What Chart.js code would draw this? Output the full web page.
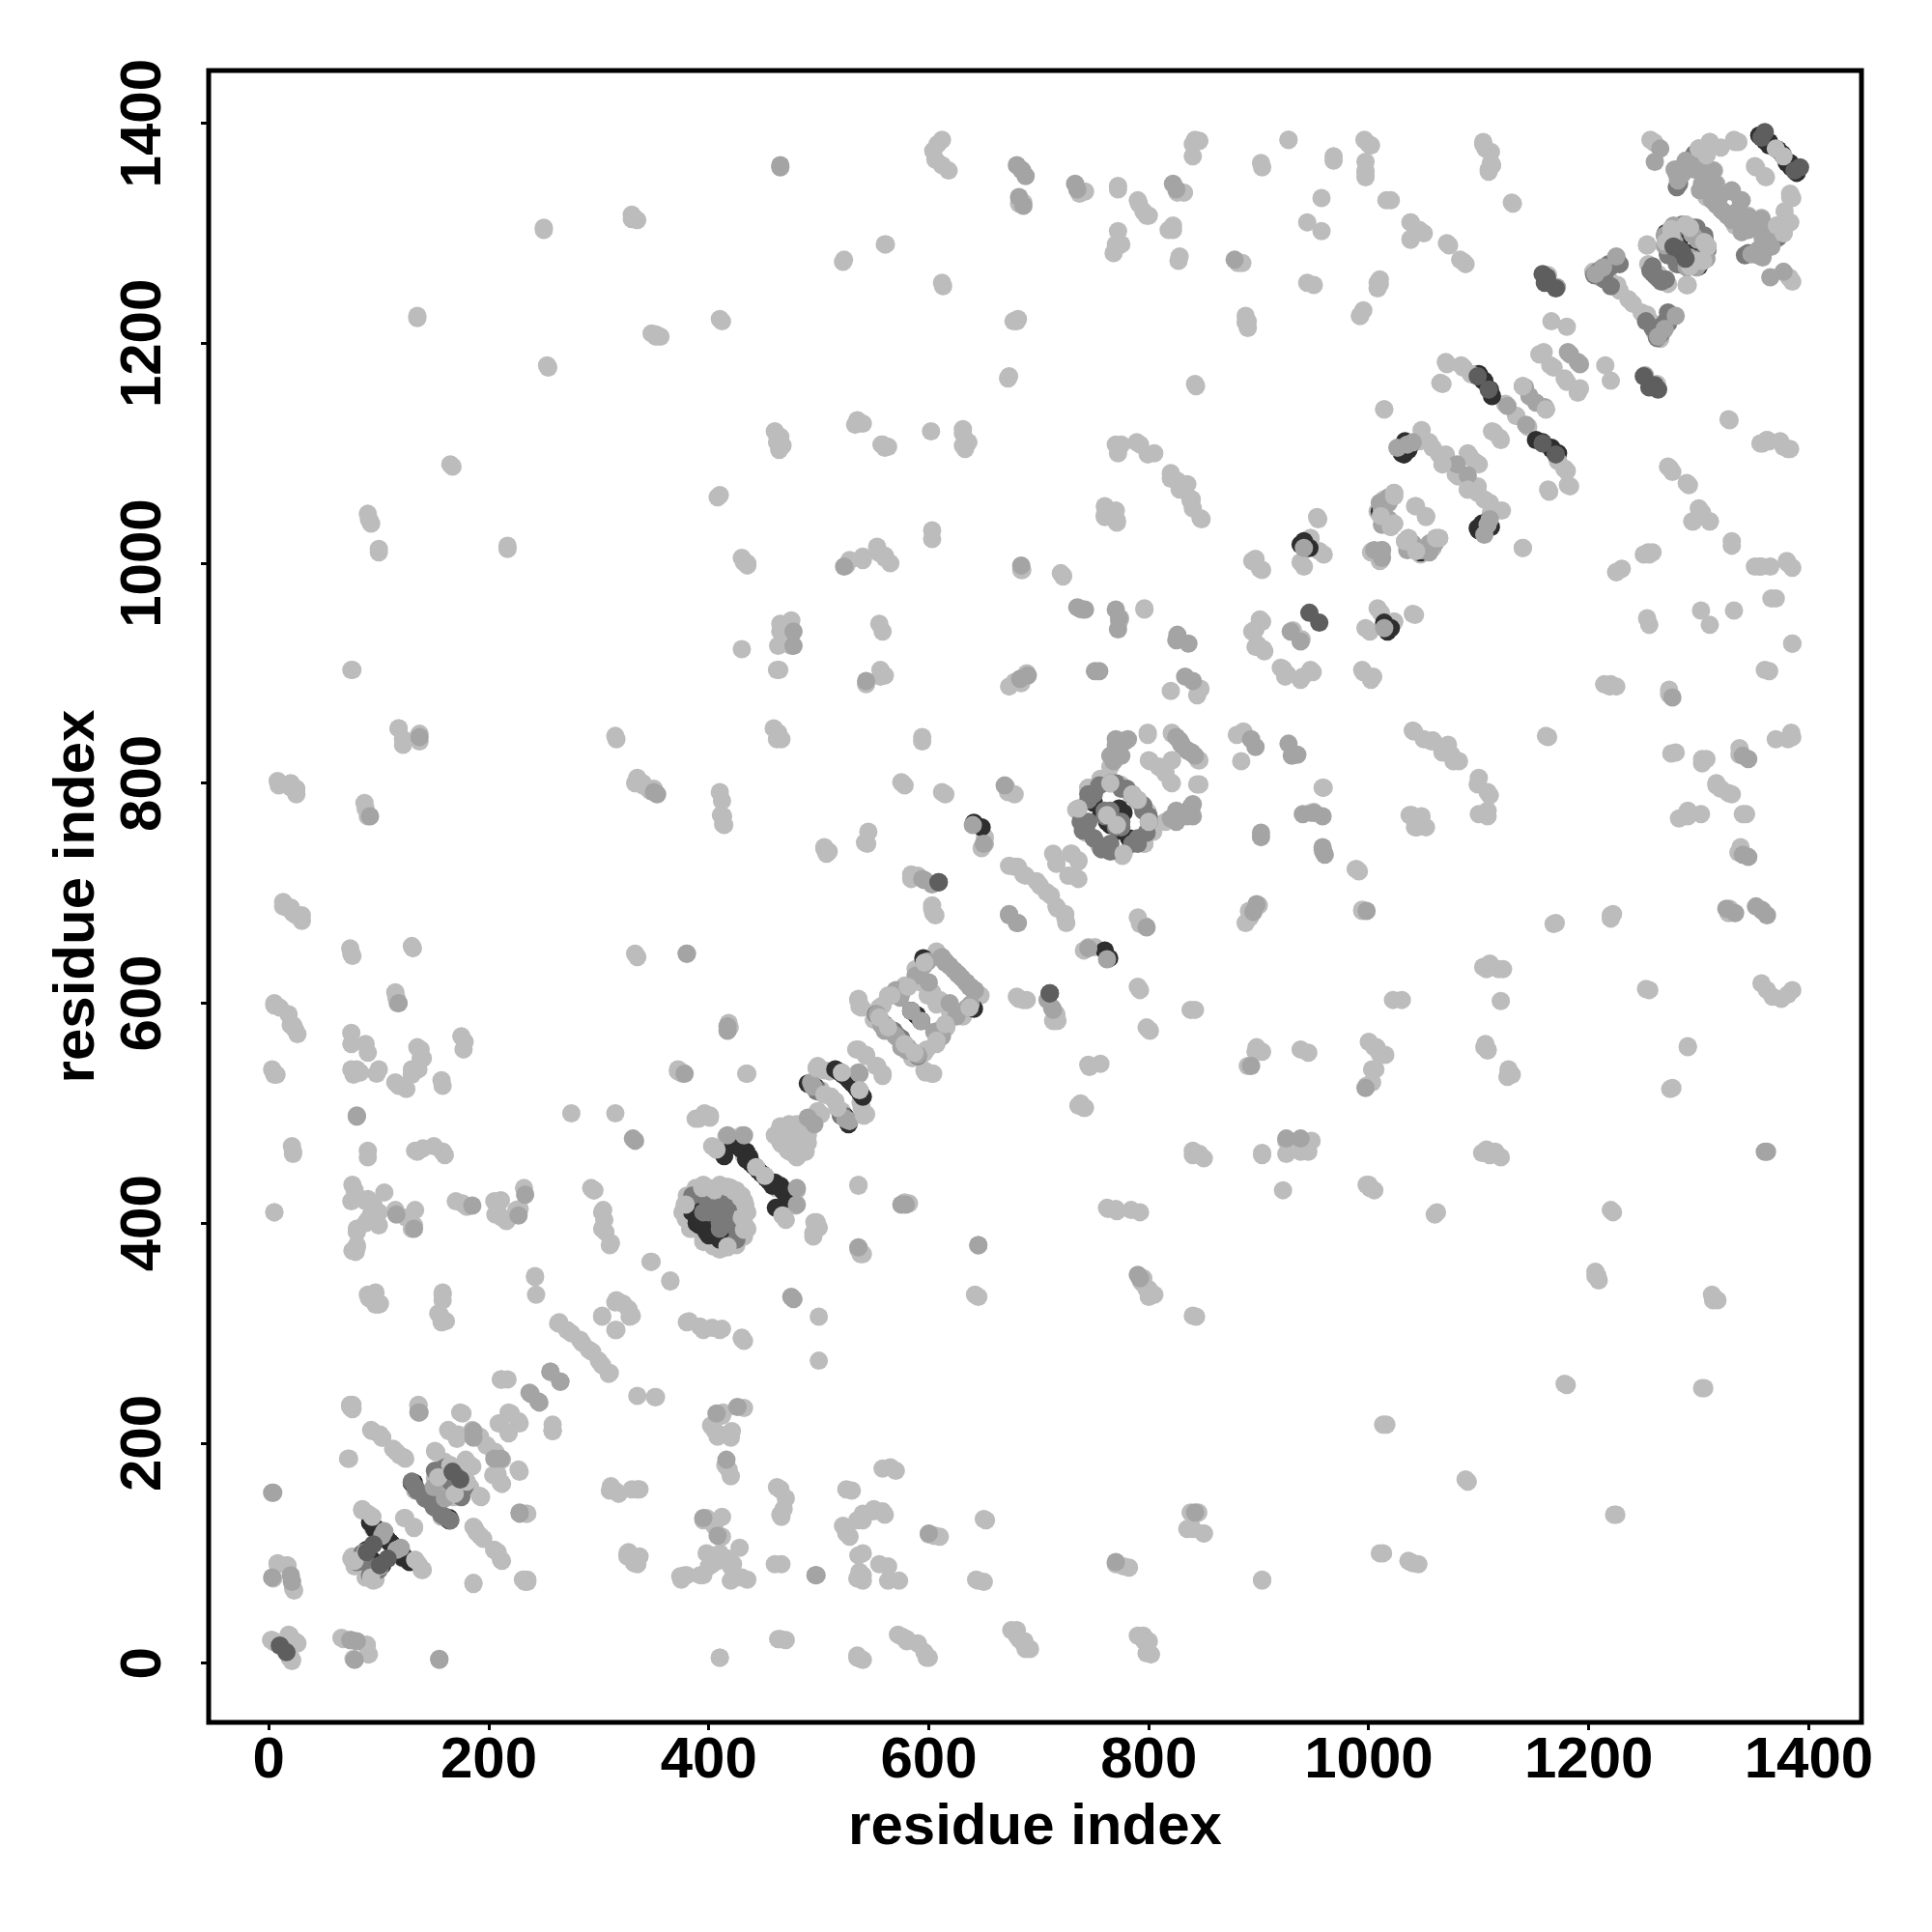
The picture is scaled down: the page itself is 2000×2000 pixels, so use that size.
<!DOCTYPE html>
<html><head><meta charset="utf-8">
<style>html,body{margin:0;padding:0;background:#fff}#w{width:2000px;height:2000px}</style>
<script src="https://cdn.jsdelivr.net/npm/chart.js@4"></script></head>
<body><div id="w"><canvas id="c"></canvas></div>
<script>
const tickValues=[0,200,400,600,800,1000,1200,1400];
const axisTitle="residue index";
const weakContacts=[[604,1375],[608,1381],[612,1385],[606,1367],[612,1362],[618,1357],[682,1327],[686,1328],[737,1336],[742,1338],[772,1340],[791,1327],[795,1320],[800,1316],[826,1337],[832,1337],[840,1381],[846,1384],[822,1303],[828,1279],[771,1288],[775,1290],[768,1282],[902,1364],[927,1385],[968,1366],[996,1385],[1002,1380],[997,1365],[997,1355],[1016,1330],[1020,1330],[1038,1310],[1046,1303],[1038,1295],[1050,1300],[1071,1291],[1083,1276],[1088,1272],[1104,1383],[1111,1374],[1111,1364],[1109,1358],[1130,1328],[944,1310],[957,1302],[881,1273],[885,1273],[944,1255],[950,1253],[890,1220],[890,1214],[992,1225],[1008,1255],[1008,1250],[1014,1140],[250,1305],[330,1313],[335,1312],[523,1276],[561,1290],[613,1252],[677,1220],[681,1222],[673,1170],[135,1223],[352,1206],[356,1206],[412,1220],[254,1178],[843,1161],[167,1088],[631,1122],[636,1110],[631,1107],[536,1127],[540,1127],[462,1110],[467,1107],[464,1103],[558,1108],[563,1106],[770,1108],[775,1108],[772,1100],[789,1110],[792,1108],[799,1099],[805,1100],[820,1077],[833,1066],[839,1058],[847,1041],[760,1044],[771,1039],[217,1013],[92,1038],[93,1036],[100,1013],[410,1062],[603,1030],[432,1001],[435,998],[540,1006],[554,1010],[560,1005],[565,1000],[684,994],[720,991],[722,988],[796,959],[463,925],[465,938],[558,938],[464,903],[556,897],[560,898],[76,903],[673,888],[678,892],[820,884],[844,880],[847,886],[118,850],[122,835],[137,838],[316,840],[463,846],[466,840],[594,842],[594,838],[9,798],[20,796],[25,790],[88,777],[333,800],[340,798],[345,795],[413,770],[414,762],[576,800],[578,798],[612,792],[615,790],[651,751],[648,741],[670,797],[678,790],[505,741],[509,738],[542,746],[584,714],[603,686],[606,680],[673,725],[681,724],[686,717],[698,711],[707,701],[716,688],[724,678],[716,727],[730,736],[736,729],[727,716],[736,713],[13,688],[18,686],[22,682],[25,680],[30,675],[76,643],[131,650],[335,642],[5,598],[10,596],[20,580],[24,576],[26,572],[116,605],[75,563],[90,555],[138,558],[138,550],[136,540],[130,535],[177,558],[158,525],[118,525],[125,522],[4,538],[7,535],[77,535],[83,537],[98,536],[315,500],[90,466],[22,463],[133,466],[140,468],[158,465],[160,462],[5,410],[76,435],[78,430],[88,420],[93,408],[98,403],[88,400],[80,392],[76,375],[133,412],[132,398],[176,418],[211,421],[206,408],[216,402],[293,432],[296,430],[304,412],[306,392],[311,382],[242,351],[348,365],[365,347],[90,335],[100,326],[94,335],[98,328],[158,337],[158,330],[156,316],[161,311],[8,91],[16,89],[22,68],[21,75],[2,21],[5,20],[18,26],[25,19],[19,5],[21,3],[66,23],[89,17],[90,8],[77,4],[72,186],[74,233],[76,231],[136,235],[93,212],[101,208],[113,195],[119,189],[123,187],[174,228],[211,258],[258,211],[264,310],[271,303],[283,294],[291,285],[300,275],[309,263],[315,328],[303,316],[315,303],[330,316],[322,327],[352,242],[374,79],[332,91],[218,228],[210,218],[227,220],[218,209],[227,176],[204,171],[211,164],[185,212],[192,206],[198,198],[205,190],[163,212],[172,208],[151,193],[160,183],[180,183],[185,179],[151,168],[157,165],[169,154],[180,165],[192,152],[130,165],[133,160],[145,152],[154,139],[164,130],[157,133],[123,132],[132,124],[85,140],[90,136],[122,95],[133,94],[139,85],[75,95],[78,88],[101,88],[93,78],[97,76],[186,124],[192,116],[205,103],[211,94],[186,73],[232,76],[235,74],[234,136],[312,158],[318,154],[335,158],[327,101],[337,97],[347,793],[411,771],[413,763],[575,801],[372,538],[376,536],[434,536],[536,435],[578,419],[582,418],[537,376],[540,372],[536,604],[537,597],[534,558],[543,553],[552,543],[558,536],[596,539],[603,536],[499,543],[505,539],[502,521],[511,515],[517,505],[499,502],[541,498],[538,510],[490,490],[464,484],[473,490],[467,479],[481,473],[476,464],[489,473],[470,470],[478,482],[484,478],[470,478],[472,466],[484,467],[480,460],[488,465],[465,474],[490,480],[397,499],[388,495],[401,498],[416,479],[430,480],[443,451],[461,432],[467,407],[470,403],[496,401],[495,391],[500,396],[388,432],[400,432],[420,432],[429,423],[433,417],[430,405],[432,394],[378,417],[405,406],[397,388],[404,379],[417,379],[376,410],[380,425],[395,435],[410,435],[425,430],[433,410],[428,390],[420,385],[410,378],[395,383],[385,395],[563,607],[555,596],[550,585],[563,578],[575,565],[587,555],[598,558],[607,566],[615,581],[578,616],[588,631],[596,637],[619,593],[599,607],[603,610],[593,584],[607,647],[619,634],[631,593],[745,651],[745,544],[739,506],[682,604],[689,603],[713,584],[773,947],[838,1057],[901,949],[897,940],[897,924],[904,922],[939,931],[920,905],[926,899],[947,903],[938,894],[953,1042],[947,1023],[955,1011],[938,1001],[901,995],[897,1004],[1023,1064],[1014,1058],[1008,1047],[1020,1033],[1042,1052],[1052,1043],[1036,1023],[1043,1011],[1061,1023],[1052,1014],[1002,1010],[1011,1003],[1046,1111],[1064,1099],[1067,1090],[1008,959],[1023,947],[1040,954],[997,941],[1040,848],[1058,839],[1067,828],[994,903],[1002,894],[672,792],[799,846],[777,839],[771,824],[765,815],[821,845],[838,828],[846,821],[800,821],[821,821],[820,801],[809,815],[815,810],[844,799],[838,777],[756,804],[745,796],[774,799],[784,789],[797,776],[803,760],[796,745],[777,736],[755,744],[743,755],[734,776],[762,771],[770,764],[958,796],[950,774],[958,739],[1037,771],[1042,760],[989,722],[994,685],[900,689],[891,684],[1163,1262],[1204,1265],[1225,1278],[1210,1260],[1226,1253],[1236,1240],[1248,1228],[1257,1219],[1253,1290],[1254,1272],[1263,1263],[1289,1253],[1260,1382],[1256,1385],[1310,1383],[1304,1369],[1332,1385],[1336,1383],[1370,1377],[1351,1361],[1360,1352],[1383,1333],[1381,1310],[1371,1307],[1313,1336],[1318,1325],[1333,1307],[1345,1316],[1357,1314],[1383,1259],[1155,1190],[1159,1192],[1165,1180],[1178,1168],[1190,1156],[1070,1183],[1084,1180],[1065,1164],[1124,1145],[1134,1134],[1112,1120],[1119,1114],[1172,1093],[1178,1086],[1181,1071],[1163,1067],[1215,1180],[1220,1166],[1327,1131],[1362,1112],[1377,1106],[1356,1109],[1381,1104],[1274,1086],[1289,1073],[1302,1046],[1294,1038],[1310,1038],[1254,1010],[1258,1010],[1357,997],[1351,997],[1381,1000],[1225,992],[1140,1014],[1049,1114],[1058,1105],[1070,1093],[1081,1079],[1097,1092],[1090,1100],[1110,1055],[1121,1048],[1099,1070],[1370,968],[1385,927],[1360,903],[1332,957],[1225,888],[1219,888],[1163,842],[1220,680],[1168,672],[1120,602],[1118,631],[1104,633],[1105,560],[1108,557],[1130,535],[1126,533],[1290,560],[1274,522],[1255,612],[1275,827],[1307,822],[1303,818],[1050,840],[1072,835],[1075,826],[1082,820],[1302,772],[1290,770],[1343,772],[1316,798],[1330,790],[1370,840],[1385,842],[1022,603],[1007,560],[1015,553],[998,525],[1003,528],[1003,540],[1048,770],[1052,760],[1230,995],[1000,435],[1005,430],[1060,408],[1115,465],[1120,460],[1222,410],[1208,352],[1209,348],[1317,330],[1314,332],[1303,250],[1180,253],[1016,217],[1090,165],[1225,135],[1010,100],[1040,91],[1045,90],[903,75],[845,137],[840,122],[850,118],[843,136],[784,412],[792,410],[795,350],[805,335],[800,340],[843,315],[922,430],[948,475],[945,465],[925,475],[903,462],[903,556],[890,543],[945,555],[717,584],[716,590],[756,545],[742,505],[736,507],[840,462],[850,459],[770,90],[782,87],[580,22],[590,18],[600,5],[535,5],[540,3],[465,22],[470,21],[410,5],[460,90],[428,105],[422,90],[420,75],[395,80],[380,80],[395,130],[405,125],[412,115],[418,95],[403,90],[410,100],[398,100],[378,80],[497,80],[465,135],[465,158],[470,150],[530,157],[525,120],[528,115],[540,130],[550,140],[560,135],[565,178],[570,175],[540,75],[540,80],[540,100],[563,88],[573,75],[652,130],[645,75],[650,74],[600,117],[605,116],[610,115],[680,30],[687,20],[692,13],[795,25],[800,20],[802,8],[310,157],[326,97],[235,76],[420,210],[412,225],[410,208],[420,205],[405,212],[413,228],[415,180],[420,170],[432,232],[500,275],[430,295],[403,305],[380,310],[395,303],[410,303],[335,243],[217,258],[258,212],[645,333]];
const midContacts=[[465,1362],[684,1358],[688,1352],[523,997],[684,998],[477,938],[477,925],[543,893],[683,895],[690,898],[737,959],[742,958],[827,931],[836,927],[833,897],[840,893],[137,842],[350,792],[353,790],[640,762],[650,745],[596,712],[603,708],[673,681],[680,673],[92,770],[118,600],[380,645],[80,497],[333,475],[116,408],[132,395],[185,416],[227,407],[233,426],[3,155],[3,78],[20,80],[74,21],[155,4],[136,228],[105,120],[116,103],[160,150],[205,186],[211,186],[237,246],[245,238],[256,265],[265,256],[228,137],[331,477],[417,575],[417,579],[536,537],[536,378],[480,432],[480,417],[496,490],[524,495],[528,493],[584,593],[634,619],[638,599],[619,600],[713,594],[1171,1251],[1160,1142],[1152,1146],[1181,1192],[1190,1183],[1143,1126],[1140,1161],[1277,1307],[1292,1305],[1308,1288],[1304,1275],[1289,1269],[1269,1298],[1299,1294],[1292,1278],[1280,1354],[1288,1366],[1300,1377],[1313,1357],[1301,1339],[1330,1338],[1339,1330],[1326,1316],[1365,1303],[1360,1290],[1348,1281],[1356,1281],[1377,1265],[1269,1213],[1279,1225],[1263,1206],[929,938],[1014,941],[1012,1012],[1035,1108],[1026,1105],[930,825],[935,826],[778,838],[781,840],[828,839],[751,902],[755,902],[669,798],[645,380],[1360,465],[498,80],[1090,1080],[960,735],[958,770],[950,773],[940,772],[1365,1260],[1357,685],[1362,680],[1340,735],[1345,733],[1325,686],[1333,682],[1340,825],[1345,822],[611,641],[615,637],[623,630],[627,626],[638,615],[642,612],[574,605],[570,612],[553,590],[557,580],[560,575],[569,571],[581,560],[609,575],[611,572],[625,588],[635,596],[770,835],[775,825],[768,820],[830,835],[835,830],[842,825],[840,770],[830,772],[825,765],[1012,1050],[1010,1055],[1018,1060],[1040,1015],[1048,1012],[1055,1018],[1005,1012],[1012,1035],[1018,1040],[1040,1110],[1303,1345],[1308,1340],[1315,1345],[1320,1335],[1322,1320],[1330,1312],[1340,1307],[1352,1305],[1358,1296],[1354,1285],[1358,1278],[1362,1287],[1368,1300],[1276,878]];
const shadeContacts=[[750,790],[745,785],[745,765],[750,750],[757,740],[765,738],[790,745],[798,755],[800,765],[795,775],[790,785],[780,795],[770,800],[765,770],[770,760],[775,765],[760,775],[494,525],[498,522],[520,498],[526,494],[1205,1262],[1208,1265],[1212,1268],[1218,1272],[1252,1220],[1258,1214],[1265,1215],[1270,1220],[1272,1228],[1264,1258],[1256,1266],[1260,1262],[1270,1258],[1272,1300],[1270,1292],[1272,1282],[1280,1272],[1290,1272],[1298,1275],[1305,1280],[1305,1295],[1298,1305],[1285,1308],[1282,1345],[1285,1360],[1292,1365],[1296,1372],[1280,1342],[130,165],[135,157],[142,150],[148,146],[152,142],[160,133],[151,175],[155,170],[160,178],[170,170],[172,160],[165,165],[575,568],[570,572],[590,552],[400,410],[407,415],[412,410],[418,420],[395,425],[385,425],[410,395],[85,100],[80,92],[92,88]];
const deepContacts=[[1355,1389],[1360,1386],[1364,1383],[1372,1376],[1380,1364],[1384,1360],[1277,1295],[1282,1292],[1272,1283],[1295,1272],[1300,1270],[1152,1112],[1158,1110],[1166,1105],[1099,1032],[1103,1036],[1033,1111],[1038,1108],[1030,1100],[1030,1103],[1100,1172],[1104,1166],[520,537],[525,533],[528,530],[515,540],[518,538],[522,535],[527,531],[530,528],[490,527],[524,497],[429,468],[434,465],[422,473],[426,470],[430,467],[437,460],[448,445],[452,441],[455,438],[458,434],[461,414],[389,400],[395,414],[385,410],[390,405],[392,398],[398,395],[92,128],[95,125],[96,122],[98,122],[100,118],[101,119],[104,116],[107,113],[108,112],[110,110],[114,104],[89,103],[92,96],[130,164],[164,132],[641,764],[648,760],[641,595],[584,593],[589,589],[938,1017],[941,1020],[1014,946],[762,765],[773,757],[773,777],[782,750],[1010,1047]];
const darkContacts=[[1387,1357],[1392,1360],[609,710],[955,946],[1109,1158],[1099,1170],[10,16],[167,174],[89,101],[95,108],[710,609],[1277,1288],[1285,1283],[1160,1255],[1170,1250],[1260,1162],[1263,1158]];
const capContacts=[[139,85],[133,94],[101,88],[93,78],[192,152],[169,154],[180,165],[211,164],[205,103],[537,521],[541,498],[517,505],[511,515],[467,407],[443,451],[603,536],[1067,1090],[1023,1064],[1020,1033],[1036,1023],[1061,1023],[1043,1011],[1381,1310],[1310,1383],[1300,1377],[1308,1288],[1304,1275],[1292,1305],[1270,1292],[1298,1275],[1289,1253],[1178,1086],[1172,1093],[1140,1161],[430,405],[433,417],[429,423],[420,432],[432,394],[417,379],[762,771],[790,785],[800,765],[777,736],[596,637],[607,566],[563,578],[587,555],[615,581],[1362,1112],[25,19],[19,5],[1370,1377],[1371,1307],[1378,1320]];

const mirror=list=>list.concat(list.map(p=>[p[1],p[0]])).map(p=>({x:p[0],y:p[1]}));
const radius=9.5;
const layer=(list,color,order)=>({data:mirror(list),backgroundColor:color,borderWidth:0,pointRadius:radius,pointHoverRadius:radius,order});
const frame={id:'frame',afterDraw(ch){const a=ch.chartArea,g=ch.ctx;g.save();g.strokeStyle='#000';g.lineWidth=5;g.strokeRect(a.left,a.top,a.width,a.height);g.restore();}};
const setTicks=s=>{s.ticks=tickValues.map(v=>({value:v}));};
const font={family:'"Liberation Sans",Arial,sans-serif',size:60,weight:'bold'};
const gridOpt={display:true,drawOnChartArea:false,drawTicks:true,tickLength:8,tickWidth:3,tickColor:'#000'};
const plainLabel=v=>String(v);
Chart.defaults.animation=false;
new Chart(document.getElementById('c'),{type:'scatter',
 data:{datasets:[layer(darkContacts,'#5e5e5e',1),layer(capContacts,'#bcbcbc',2),layer(midContacts,'#a4a4a4',3),layer(shadeContacts,'#7a7a7a',4),layer(deepContacts,'#2e2e2e',5),layer(weakContacts,'#bcbcbc',6)]},
 options:{responsive:true,maintainAspectRatio:false,animation:false,
  layout:{padding:{left:0,top:73,right:73,bottom:0}},
  plugins:{legend:{display:false},tooltip:{enabled:false}},
  scales:{
   x:{type:'linear',position:'bottom',min:-54.7,max:1447.9,afterBuildTicks:setTicks,afterFit:s=>{s.height=217;},
      border:{display:false},grid:gridOpt,
      ticks:{color:'#000',font,padding:-4,autoSkip:false,minRotation:0,maxRotation:0,callback:plainLabel},
      title:{display:true,text:axisTitle,color:'#000',font,padding:{top:0,bottom:72}}},
   y:{type:'linear',position:'left',min:-53.8,max:1448,afterBuildTicks:setTicks,afterFit:s=>{s.width=216;},
      border:{display:false},grid:gridOpt,
      ticks:{color:'#000',font,padding:-8,autoSkip:false,minRotation:90,maxRotation:90,crossAlign:'center',callback:plainLabel},
      title:{display:true,text:axisTitle,color:'#000',font,padding:{top:44,bottom:0}}}
  }},
 plugins:[frame]});
</script></body></html>
